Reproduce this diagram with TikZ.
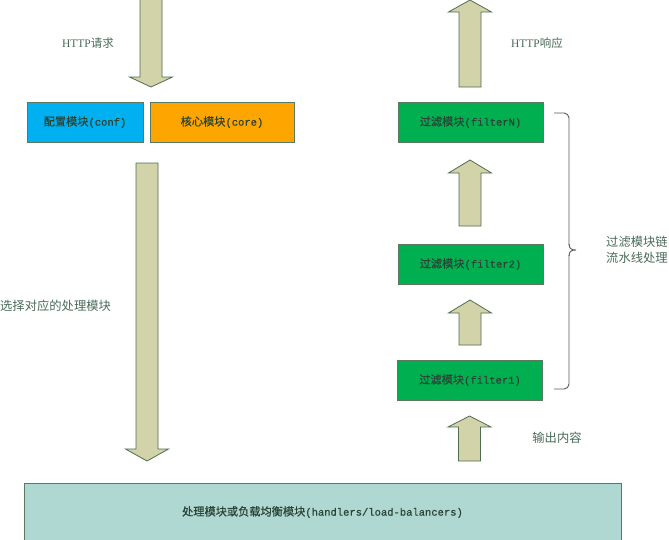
\documentclass[tikz,border=0pt]{standalone}
\usepackage{fontspec}
\newfontfamily\cjk{Noto Sans CJK SC}
\newfontfamily\cjkb[FakeBold=0.6]{Noto Sans CJK SC}
\newfontfamily\mono[FakeBold=0.6]{Liberation Mono}
\newfontfamily\serif{Liberation Serif}
\definecolor{arrowfill}{HTML}{D3D3AA}
\definecolor{arrowline}{HTML}{4E6E50}
\definecolor{boxline}{HTML}{5A7A60}
\definecolor{conffill}{HTML}{00B0F0}
\definecolor{corefill}{HTML}{FFA500}
\definecolor{filterfill}{HTML}{00B050}
\definecolor{basefill}{HTML}{AFD8D2}
\definecolor{boxtext}{HTML}{2A4436}
\definecolor{labeltext}{HTML}{4A6A5A}
\tikzset{
  modbox/.style={draw=boxline, line width=0.8pt, minimum height=40pt, inner sep=0pt, text=boxtext},
  blockarrow/.style={draw=arrowline, fill=arrowfill, line width=0.8pt, line join=miter},
  lbl/.style={text=labeltext, inner sep=0pt, font=\fontsize{11.5}{16}\selectfont},
  cjklbl/.style={lbl, font=\cjk\fontsize{12.3}{16}\selectfont},
}
\newcommand{\bx}[2]{{\cjkb\fontsize{11.2}{13}\selectfont #1}{\mono\fontsize{10.5}{13}\selectfont #2}}
\newcommand{\blockarrowshape}[4]{% center x, tail y, head base y, tip y
  \path[blockarrow] (#1-11,#2) -- (#1+11,#2) -- (#1+11,#3) -- (#1+21.5,#3) -- (#1,#4) -- (#1-21.5,#3) -- (#1-11,#3) -- cycle;}
\begin{document}
\begin{tikzpicture}[x=1pt,y=-1pt]
\useasboundingbox (0,0) rectangle (669,539);
\fill[white] (0,0) rectangle (669,539);

% boxes
\node[modbox, fill=conffill, minimum width=116pt] (conf) at (85,122) {\bx{配置模块}{(conf)}};
\node[modbox, fill=corefill, minimum width=144pt] (core) at (222,122) {\bx{核心模块}{(core)}};
\node[modbox, fill=filterfill, minimum width=145pt] (fN) at (470.5,122) {\bx{过滤模块}{(filterN)}};
\node[modbox, fill=filterfill, minimum width=145pt] (f2) at (470.5,264) {\bx{过滤模块}{(filter2)}};
\node[modbox, fill=filterfill, minimum width=145pt] (f1) at (470,380) {\bx{过滤模块}{(filter1)}};
\node[modbox, fill=basefill, minimum width=597pt, minimum height=58pt] (base) at (322.5,512)
  {\bx{处理模块或负载均衡模块}{(handlers/load-balancers)}};

% block arrows
\blockarrowshape{151}{-2}{77}{87}
\blockarrowshape{147}{163}{449}{461}
\blockarrowshape{470}{87}{12}{0}
\blockarrowshape{470}{226}{173}{160}
\blockarrowshape{470}{345}{313}{300}
\blockarrowshape{469.5}{461}{427}{416}

% labels
\node[lbl] (lreq) at (88,43) {{\serif HTTP}{\cjk 请求}};
\node[lbl] (lresp) at (537,43) {{\serif HTTP}{\cjk 响应}};
\node[cjklbl, anchor=west] (lsel) at (0,306) {选择对应的处理模块};
\node[cjklbl, anchor=west, align=left] (lchain) at (606,250) {过滤模块链\\流水线处理};
\node[cjklbl] (lout) at (557,438) {输出内容};

% brace
\coordinate (btop) at (554,113);
\coordinate (bbot) at (554,389);
\draw[color=black!65, line width=0.9pt, rounded corners=5pt]
  (btop) -- (569,113) -- (569,245);
\draw[color=black!65, line width=0.9pt]
  (569,244) .. controls (569,249) and (572,250) .. (576,250)
  .. controls (572,250) and (569,251) .. (569,256);
\draw[color=black!65, line width=0.9pt, rounded corners=5pt]
  (569,255) -- (569,389) -- (bbot);
\end{tikzpicture}
\end{document}
